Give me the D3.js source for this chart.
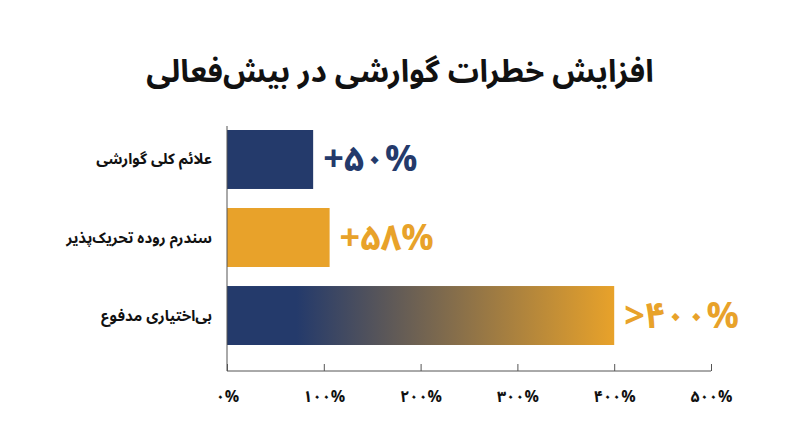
<!DOCTYPE html>
<html><head><meta charset="utf-8">
<script src="https://cdn.jsdelivr.net/npm/d3@7"></script>
<style>body{margin:0;background:#fff}text{font-family:"Noto Sans Arabic","Vazirmatn","DejaVu Sans",sans-serif}</style>
</head><body><svg id="c" width="800" height="447"></svg>
<script>
const title = "افزایش خطرات گوارشی در بیش‌فعالی";
const categories = ["علائم کلی گوارشی","سندرم روده تحریک‌پذیر","بی‌اختیاری مدفوع"];
const barValues = [89, 106, 400];
const valueLabels = ["+۵۰%","+۵۸%",">۴۰۰%"];
const tickValues = [0,100,200,300,400,500];
const tickLabels = ["۰%","۱۰۰%","۲۰۰%","۳۰۰%","۴۰۰%","۵۰۰%"];
const navy = "#243a6b", orange = "#e8a22a";
const colors = [navy, orange, "url(#g)"];
const labelColors = [navy, orange, orange];

const svg = d3.select("#c");
const defs = svg.append("defs");
const g = defs.append("linearGradient").attr("id","g");
g.append("stop").attr("offset","0%").attr("stop-color",navy);
g.append("stop").attr("offset","18%").attr("stop-color",navy);
g.append("stop").attr("offset","100%").attr("stop-color",orange);

svg.append("text").attr("x",400).attr("y",82).attr("text-anchor","middle")
  .attr("font-size",31).attr("font-weight","bold").attr("fill","#111").text(title);

const x = d3.scaleLinear().domain([0,500]).range([227,711]);
const y = d3.scaleBand().domain(categories).range([130,345]).paddingInner(0.244).paddingOuter(0);

svg.selectAll("rect.bar").data(categories).join("rect")
  .attr("x",x(0)).attr("y",d=>y(d)).attr("height",y.bandwidth())
  .attr("width",(d,i)=>x(barValues[i])-x(0)).attr("fill",(d,i)=>colors[i]);

svg.selectAll("text.cat").data(categories).join("text")
  .attr("x",212).attr("y",d=>y(d)+y.bandwidth()/2+5).attr("text-anchor","end")
  .attr("font-size",15).attr("font-weight","bold").attr("fill","#111").text(d=>d);

svg.selectAll("text.val").data(categories).join("text")
  .attr("x",(d,i)=>x(barValues[i])+10).attr("y",d=>y(d)+y.bandwidth()/2+12)
  .attr("direction","ltr").attr("unicode-bidi","bidi-override").attr("font-size",36).attr("font-weight","bold")
  .attr("fill",(d,i)=>labelColors[i]).text((d,i)=>valueLabels[i]);

const ax = svg.append("g").attr("transform","translate(0,371)")
  .call(d3.axisBottom(x).tickValues(tickValues).tickSize(-7).tickFormat((d,i)=>tickLabels[i]));
ax.select(".domain").attr("d",`M${x(0)},0H${x(500)}`).attr("stroke","#555");
ax.selectAll(".tick line").attr("stroke","#555");
ax.selectAll(".tick text").attr("y",20).attr("font-size",16).attr("font-weight","bold")
  .attr("fill","#111").attr("direction","ltr").attr("unicode-bidi","bidi-override")
  .attr("font-family","\"Noto Sans Arabic\",\"DejaVu Sans\",sans-serif");
svg.append("line").attr("x1",x(0)).attr("x2",x(0)).attr("y1",126).attr("y2",371).attr("stroke","#555");
</script></body></html>
